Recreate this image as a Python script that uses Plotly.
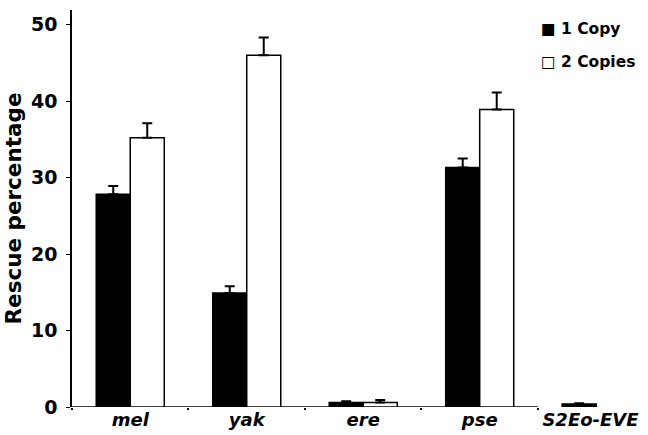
import plotly.graph_objects as go

categories = ["mel", "yak", "ere", "pse", "S2Eo-EVE"]
one_copy = [27.8, 14.9, 0.6, 31.3, 0.4]
one_copy_err = [1.1, 0.9, 0.15, 1.2, 0.1]
two_copies = [35.2, 46.0, 0.6, 38.9, None]
two_copies_err = [1.9, 2.3, 0.3, 2.2, 0.0]
y_ticks = [0, 10, 20, 30, 40, 50]

FONT = "DejaVu Sans, sans-serif"
cat_labels = [f"<b><i>{c}</i></b>" for c in categories]
cat_labels[-1] = cat_labels[-1] + "&nbsp;&nbsp;"

fig = go.Figure()
fig.add_trace(go.Bar(
    x=cat_labels, y=one_copy, name="1 Copy",
    marker=dict(color="black", line=dict(color="black", width=1.5)),
    error_y=dict(type="data", array=one_copy_err, arrayminus=[0]*5, symmetric=False,
                 color="black", thickness=2, width=5),
    showlegend=False,
))
fig.add_trace(go.Bar(
    x=cat_labels, y=two_copies, name="2 Copies",
    marker=dict(color="white", line=dict(color="black", width=1.5)),
    error_y=dict(type="data", array=two_copies_err, arrayminus=[0]*5, symmetric=False,
                 color="black", thickness=2, width=5),
    showlegend=False,
))

# x baseline ends at the last category boundary, as in the original
fig.add_shape(type="line", xref="x", yref="y", x0=-0.5, x1=3.5, y0=0, y1=0,
              line=dict(color="black", width=1.5), layer="below")

fig.update_layout(
    width=648, height=435,
    margin=dict(l=72, r=8, t=10, b=28, autoexpand=False),
    plot_bgcolor="white", paper_bgcolor="white",
    barmode="group", bargap=0.416, bargroupgap=0,
    font=dict(family=FONT, color="black"),
    xaxis=dict(
        range=[-0.5, 4.376], showline=False, automargin=False,
        ticks="outside", tickson="boundaries", ticklen=2, tickwidth=1.5, tickcolor="black",
        showgrid=False, tickfont=dict(size=18, family=FONT),
        ticklabelstandoff=0,
    ),
    yaxis=dict(
        range=[0, 51.9], tickvals=y_ticks, ticktext=[f"<b>{v}</b>" for v in y_ticks],
        showline=True, linecolor="black", linewidth=1.5, automargin=False,
        ticks="outside", ticklen=4, tickcolor="black", showgrid=False, zeroline=False,
        tickfont=dict(size=19, family=FONT), ticklabelstandoff=5,
        title=dict(text="<b>Rescue percentage</b>", font=dict(size=21.5, family=FONT), standoff=3),
    ),
    annotations=[
        dict(x=539, y=29, xref="paper", yref="paper", text="<b>■ 1 Copy</b>", showarrow=False,
             xanchor="left", yanchor="middle", font=dict(size=15.5, family=FONT)),
        dict(x=539, y=62, xref="paper", yref="paper", text="<b>□ 2 Copies</b>", showarrow=False,
             xanchor="left", yanchor="middle", font=dict(size=15.5, family=FONT)),
    ],
)
# convert annotation pixel positions to paper coords
pw, ph = 648 - 72 - 8, 435 - 10 - 28
for a in fig.layout.annotations:
    a.x = (a.x - 72) / pw
    a.y = 1 - (a.y - 10) / ph

fig.write_html("out.html", config={"displayModeBar": False},
               post_script="document.body.style.margin='0';document.body.style.overflow='hidden';")
